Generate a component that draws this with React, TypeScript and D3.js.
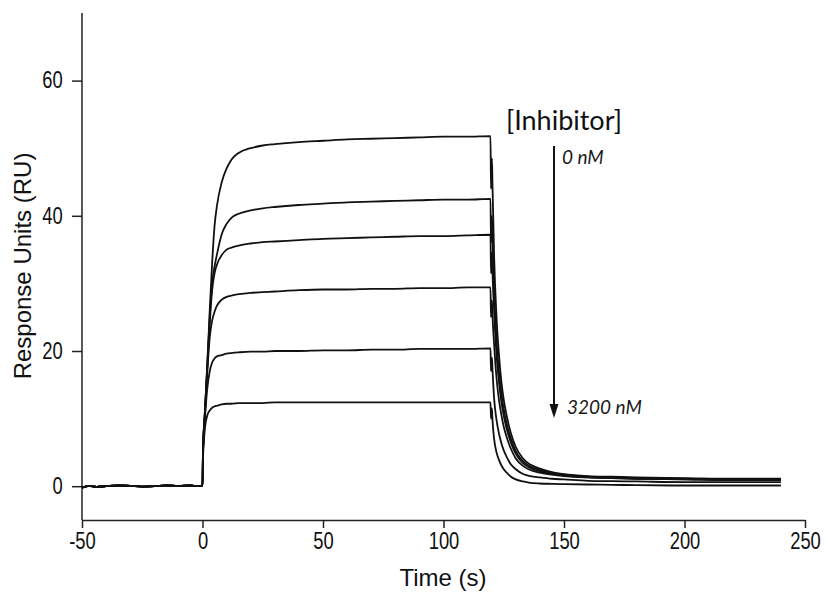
import { useEffect, useRef } from 'react'
import * as d3 from 'd3'

// baseline before injection (shared by all traces)
const baseT = [-50, -47, -44, -40, -35, -30, -25, -20, -15, -10, -5, -2, -0.5]
const baseV = [-0.2, 0.05, -0.1, 0, 0.1, 0.05, -0.05, 0, 0.1, 0.05, 0.1, 0, 0]

// association phase
const assocT = [0, 0.2, 1, 2, 3, 4, 5, 6, 8, 10, 12, 15, 20, 25, 30, 40, 50, 60, 70, 80, 90, 100, 110, 119.5]
const assoc1 = [0, 5, 11, 18, 26, 33, 38.5, 41.5, 45, 47, 48.3, 49.3, 50.0, 50.4, 50.6, 50.9, 51.1, 51.3, 51.4, 51.5, 51.6, 51.7, 51.7, 51.8]
const assoc2 = [0, 5, 11, 18, 25, 30, 32.5, 34.3, 37.3, 38.8, 39.7, 40.3, 40.8, 41.1, 41.3, 41.6, 41.8, 42.0, 42.1, 42.2, 42.3, 42.4, 42.4, 42.5]
const assoc3 = [0, 5, 11, 17.5, 24, 29, 31.5, 32.8, 34.2, 35, 35.3, 35.6, 35.9, 36.1, 36.2, 36.4, 36.6, 36.7, 36.8, 36.9, 37.0, 37.0, 37.1, 37.2]
const assoc4 = [0, 5, 10.5, 17, 22, 24.5, 25.8, 26.7, 27.6, 28, 28.2, 28.4, 28.6, 28.7, 28.8, 29.0, 29.1, 29.1, 29.2, 29.2, 29.3, 29.3, 29.4, 29.4]
const assoc5 = [0, 5, 10, 14.5, 17, 18.3, 18.9, 19.2, 19.4, 19.6, 19.7, 19.8, 19.9, 19.9, 20.0, 20.0, 20.1, 20.1, 20.2, 20.2, 20.3, 20.3, 20.3, 20.4]
const assoc6 = [0, 4, 8.5, 10.5, 11.2, 11.6, 11.8, 11.9, 12.1, 12.2, 12.2, 12.3, 12.3, 12.3, 12.4, 12.4, 12.4, 12.4, 12.4, 12.4, 12.4, 12.4, 12.4, 12.4]

// dissociation phase
const dissocT = [119.7, 120.1, 120.3, 121, 122, 123, 124, 125, 126, 128, 130, 133, 136, 140, 145, 150, 160, 170, 180, 200, 220, 240]
const dissoc1 = [44, 48.5, 45, 34, 25, 19.5, 15.5, 12.8, 10.8, 7.8, 5.8, 4.1, 3.2, 2.6, 2.1, 1.8, 1.5, 1.4, 1.3, 1.2, 1.1, 1.1]
const dissoc2 = [36, 40, 37, 29, 21.5, 17, 13.8, 11.4, 9.6, 7.0, 5.2, 3.7, 2.9, 2.4, 1.9, 1.7, 1.4, 1.3, 1.2, 1.1, 1.0, 1.0]
const dissoc3 = [31.5, 34.5, 32, 26, 19.5, 15.5, 12.5, 10.4, 8.8, 6.4, 4.8, 3.4, 2.7, 2.2, 1.8, 1.6, 1.3, 1.2, 1.1, 1.0, 0.9, 0.9]
const dissoc4 = [25, 27.5, 25.5, 21, 16, 12.8, 10.6, 8.8, 7.5, 5.5, 4.1, 3.0, 2.4, 2.0, 1.7, 1.5, 1.3, 1.2, 1.1, 1.0, 0.9, 0.9]
const dissoc5 = [17, 19, 17.5, 13, 9.8, 7.8, 6.4, 5.3, 4.5, 3.2, 2.5, 1.8, 1.5, 1.3, 1.1, 1.0, 0.8, 0.75, 0.7, 0.6, 0.6, 0.6]
const dissoc6 = [10, 11.5, 10, 7, 5, 3.9, 3.1, 2.5, 2.1, 1.4, 1.0, 0.7, 0.5, 0.4, 0.35, 0.3, 0.25, 0.2, 0.15, 0.1, 0.1, 0.1]

const assocSets = [assoc1, assoc2, assoc3, assoc4, assoc5, assoc6]
const dissocSets = [dissoc1, dissoc2, dissoc3, dissoc4, dissoc5, dissoc6]

const xTicks = [-50, 0, 50, 100, 150, 200, 250]
const yTicks = [0, 20, 40, 60]

export default function App() {
  const svgRef = useRef<SVGSVGElement>(null)

  useEffect(() => {
    const W = 826, H = 595
    const x = d3.scaleLinear().domain([-50, 250]).range([82, 805])
    const y = d3.scaleLinear().domain([-5, 70]).range([520, 13])

    const svg = d3.select(svgRef.current)
    svg.selectAll('*').remove()
    svg.attr('width', W).attr('height', H)

    const axisFont = '"Liberation Sans", Arial, sans-serif'
    const noteFont = 'Lato, "Open Sans", sans-serif'

    // axes (tick labels are a narrow face in the original, so squeeze them)
    const gx = svg.append('g').attr('transform', `translate(0,${y(-5)})`)
      .call(d3.axisBottom(x).tickValues(xTicks).tickSize(8).tickSizeOuter(0).tickPadding(5).tickFormat(d => String(d)))
    const gy = svg.append('g').attr('transform', `translate(${x(-50)},0)`)
      .call(d3.axisLeft(y).tickValues(yTicks).tickSize(10).tickSizeOuter(0).tickPadding(0).tickFormat(d => String(d)))
    ;[gx, gy].forEach(g => {
      g.select('.domain').attr('stroke', '#222').attr('stroke-width', 1.5)
      g.selectAll('.tick line').attr('stroke', '#222').attr('stroke-width', 1.5)
      g.selectAll('.tick text').attr('font-family', axisFont).attr('font-size', 23).attr('fill', '#111')
    })
    gx.selectAll('.tick text').attr('transform', 'scale(0.8,1)')
    gy.selectAll('.tick text').attr('x', -24).attr('transform', 'scale(0.8,1)')
    gy.select('.domain').attr('d', `M0,${y(-5)}V${y(70)}`)

    // traces
    const line = d3.line<number[]>().x(d => x(d[0])).y(d => y(d[1])).curve(d3.curveMonotoneX)
    assocSets.forEach((a, i) => {
      const pts = [
        ...baseT.map((t, j) => [t, baseV[j]]),
        ...assocT.map((t, j) => [t, a[j]]),
        ...dissocT.map((t, j) => [t, dissocSets[i][j]]),
      ]
      svg.append('path').datum(pts).attr('fill', 'none').attr('stroke', '#111')
        .attr('stroke-width', 1.8).attr('stroke-linejoin', 'round').attr('d', line)
    })

    // annotation
    svg.append('text').attr('x', 564).attr('y', 130).attr('text-anchor', 'middle')
      .attr('font-family', noteFont).attr('font-size', 27).attr('fill', '#111').text('[Inhibitor]')
    const ax = 554
    svg.append('line').attr('x1', ax).attr('x2', ax).attr('y1', 146).attr('y2', 408)
      .attr('stroke', '#111').attr('stroke-width', 2)
    svg.append('path').attr('d', `M${ax - 4.5},404 L${ax + 4.5},404 L${ax},418 Z`).attr('fill', '#111')
    svg.append('text').attr('x', 562).attr('y', 164).attr('font-family', noteFont)
      .attr('font-style', 'italic').attr('font-size', 19).attr('fill', '#1a1a1a').text('0 nM')
    svg.append('text').attr('x', 567).attr('y', 414).attr('font-family', noteFont)
      .attr('font-style', 'italic').attr('font-size', 19).attr('fill', '#1a1a1a').text('3200 nM')

    // axis titles
    svg.append('text').attr('x', 443).attr('y', 586).attr('text-anchor', 'middle')
      .attr('font-family', axisFont).attr('font-size', 24).attr('fill', '#111').text('Time (s)')
    svg.append('text').attr('transform', `translate(31,266) rotate(-90)`).attr('text-anchor', 'middle')
      .attr('font-family', axisFont).attr('font-size', 24).attr('fill', '#111').text('Response Units (RU)')
  }, [])

  return (
    <div style={{ position: 'absolute', left: 0, top: 0, background: '#fff' }}>
      <svg ref={svgRef} />
    </div>
  )
}
